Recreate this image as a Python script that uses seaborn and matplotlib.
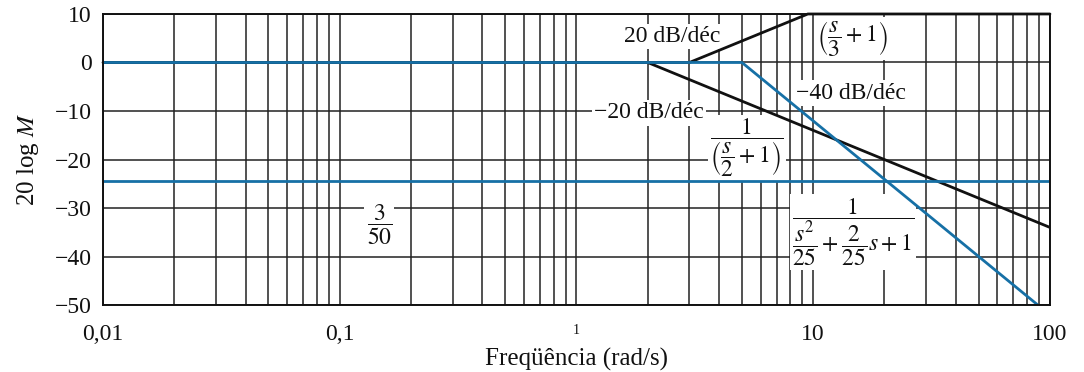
import numpy as np
import pandas as pd
import matplotlib
matplotlib.use("Agg")
import matplotlib.pyplot as plt
import seaborn as sns
from matplotlib.ticker import FixedLocator, LogLocator, NullFormatter

# ---- data (asymptote corner points) ----
w_zero = [0.01, 3.0, 9.49, 100.0]          # (s/3 + 1)
db_zero = [0.0, 0.0, 10.0, 10.0]
w_pole1 = [0.01, 2.0, 100.0]               # 1/(s/2 + 1)
db_pole1 = [0.0, 0.0, -34.0]
w_pole2 = [0.01, 5.0, 88.9]                # 1/(s^2/25 + 2s/25 + 1)
db_pole2 = [0.0, 0.0, -50.0]
w_gain = [0.01, 100.0]                     # 3/50
db_gain = [-24.4, -24.4]

xticks = [0.01, 0.1, 1, 10, 100]
xticklabels = ["0,01", "0,1", "1", "10", "100"]
yticks = [10, 0, -10, -20, -30, -40, -50]
yticklabels = ["10", "0", "\u221210", "\u221220", "\u221230", "\u221240", "\u221250"]

BLACK = "#111111"
BLUE = "#1670a6"

sns.set_theme(style="white")
plt.rcParams["font.family"] = ["Liberation Serif", "DejaVu Serif"]
plt.rcParams["mathtext.fontset"] = "stix"

fig = plt.figure(figsize=(10.84, 3.72), dpi=100)
ax = fig.add_axes([0.095, 0.18, 0.8736, 0.7824])

def draw(w, db, color, z, clip=True):
    df = pd.DataFrame({"w": w, "db": db})
    sns.lineplot(data=df, x="w", y="db", ax=ax, color=color, lw=2.0,
                 sort=False, estimator=None, zorder=z)
    ax.get_lines()[-1].set_clip_on(clip)

draw(w_zero, db_zero, BLACK, 3, clip=False)
draw(w_pole1, db_pole1, BLACK, 3)
draw(w_gain, db_gain, BLUE, 4)
draw(w_pole2, db_pole2, BLUE, 4)

ax.set_xscale("log")
ax.set_xlim(0.01, 100)
ax.set_ylim(-50, 10)

ax.xaxis.set_major_locator(FixedLocator(xticks))
ax.set_xticks(xticks)
ax.set_xticklabels(xticklabels)
ax.xaxis.set_minor_locator(LogLocator(base=10, subs=np.arange(2, 10)))
ax.xaxis.set_minor_formatter(NullFormatter())
ax.set_yticks(yticks)
ax.set_yticklabels(yticklabels)

ax.grid(True, which="both", axis="x", color="#222222", lw=1.1, zorder=1)
ax.grid(True, which="major", axis="y", color="#222222", lw=1.1, zorder=1)
ax.set_axisbelow(True)

ax.tick_params(axis="both", which="both", length=0, labelsize=17, colors="#111111")
ax.tick_params(axis="x", pad=14)
ax.tick_params(axis="y", pad=8)
for lbl in ax.get_xticklabels():
    if lbl.get_text() == "1":
        lbl.set_fontsize(10)

for s in ax.spines.values():
    s.set_color("#111111")
    s.set_linewidth(1.4)
    s.set_zorder(5)

ax.set_xlabel("Freqüência (rad/s)", fontsize=18, labelpad=2, color="#111111")
ax.set_ylabel(r"20 log $M$", fontsize=18, labelpad=10, color="#111111")
if ax.get_legend():
    ax.get_legend().remove()

bb = dict(facecolor="white", edgecolor="none", pad=1.5)
kw = dict(ha="center", va="center", fontsize=17, color="#111111", bbox=bb, zorder=2)
ax.text(2.53, 5.3, "20 dB/déc", **kw)
ax.text(14.6, 5.0, r"$\left(\dfrac{s}{3}+1\right)$", **kw)
ax.text(14.4, -6.3, "\u221240 dB/déc", **kw)
ax.text(2.02, -10.4, "\u221220 dB/déc", **kw)
ax.text(5.25, -17.6, r"$\dfrac{1}{\left(\dfrac{s}{2}+1\right)}$", **kw)
ax.text(0.147, -33.5, r"$\dfrac{3}{50}$", **kw)
ax.text(14.7, -34.9, r"$\dfrac{1}{\dfrac{s^2}{25}+\dfrac{2}{25}s+1}$", **kw)

fig.savefig("out.png", dpi=100)
